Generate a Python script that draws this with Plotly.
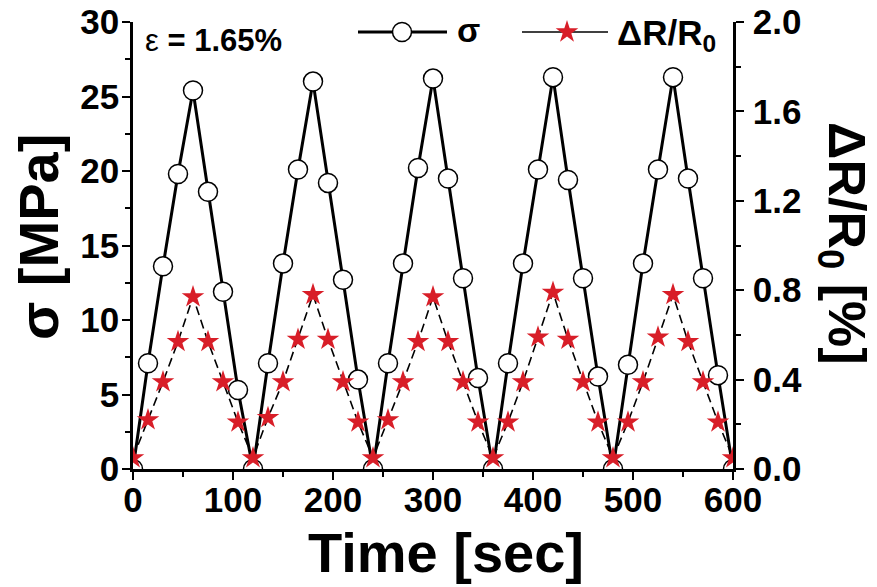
import plotly.graph_objects as go

# Time axis: one reading every 15 s over five loading cycles
time_s = list(range(0, 601, 15))

# Stress (MPa) for each reading
stress_mpa = [
    0.0, 7.1, 13.6, 19.8, 25.4, 18.6, 11.9, 5.3,
    0.0, 7.1, 13.8, 20.1, 26.0, 19.2, 12.7, 6.0,
    0.0, 7.1, 13.8, 20.2, 26.2, 19.5, 12.8, 6.1,
    0.0, 7.1, 13.8, 20.1, 26.3, 19.4, 12.8, 6.2,
    0.0, 7.0, 13.8, 20.1, 26.3, 19.5, 12.8, 6.3,
    0.0,
]

# Relative resistance change (%) for each reading
dr_pct = [
    0.05, 0.22, 0.39, 0.57, 0.77, 0.57, 0.39, 0.21,
    0.05, 0.23, 0.39, 0.58, 0.78, 0.58, 0.39, 0.21,
    0.05, 0.22, 0.39, 0.57, 0.77, 0.57, 0.39, 0.21,
    0.05, 0.21, 0.39, 0.59, 0.79, 0.58, 0.39, 0.21,
    0.05, 0.21, 0.39, 0.59, 0.78, 0.57, 0.39, 0.21,
    0.05,
]

x_ticks = [0, 100, 200, 300, 400, 500, 600]
y_ticks = [0, 5, 10, 15, 20, 25, 30]
y2_ticks = [0.0, 0.4, 0.8, 1.2, 1.6, 2.0]

FONT = "Liberation Sans, Arial, sans-serif"
RED = "#d81e28"
W, H = 877, 587
ML, MR, MT, MB = 133, 144, 22, 118
PW, PH = W - ML - MR, H - MT - MB
X_RANGE = [0, 600]
Y_RANGE = [0, 30]


def px_to_paper(px, py):
    """Page pixels -> plotly paper coordinates (relative to the plot area)."""
    return (px - ML) / PW, (H - MB - py) / PH


def px_to_data(px, py):
    """Page pixels -> primary-axis data coordinates."""
    fx, fy = px_to_paper(px, py)
    return (X_RANGE[0] + fx * (X_RANGE[1] - X_RANGE[0]),
            Y_RANGE[0] + fy * (Y_RANGE[1] - Y_RANGE[0]))


circle_marker = dict(symbol="circle", size=19, color="white",
                     line=dict(color="black", width=1.5))
star_marker = dict(symbol="star", size=17, color=RED, line=dict(width=0))

fig = go.Figure()

fig.add_trace(go.Scatter(
    x=time_s, y=stress_mpa, name="σ", mode="lines+markers",
    line=dict(color="black", width=3),
    marker=circle_marker, showlegend=False, yaxis="y",
))

fig.add_trace(go.Scatter(
    x=time_s, y=dr_pct, name="ΔR/R0", mode="lines+markers",
    line=dict(color="black", width=1.6, dash="9px,5px"),
    marker=star_marker, showlegend=False, yaxis="y2",
))

# Hand-built legend keys across the top of the plot area
key_y = 32
for (x1, xm, x2), lw, mk in [
    ((358, 402, 447), 3.0, circle_marker),
    ((522, 567, 608), 1.6, star_marker),
]:
    xs = [px_to_data(p, key_y)[0] for p in (x1, xm, x2)]
    yk = px_to_data(x1, key_y)[1]
    fig.add_trace(go.Scatter(
        x=xs, y=[yk] * 3, mode="lines", line=dict(color="black", width=lw),
        showlegend=False, hoverinfo="skip", cliponaxis=False,
    ))
    fig.add_trace(go.Scatter(
        x=[xs[1]], y=[yk], mode="markers", marker=mk,
        showlegend=False, hoverinfo="skip", cliponaxis=False,
    ))

axis_common = dict(
    showline=True, linecolor="black", linewidth=2.6,
    ticks="outside", ticklen=8, tickwidth=2.4, tickcolor="black",
    showgrid=False, zeroline=False, automargin=False,
    tickfont=dict(family=FONT, size=35, color="black", weight="bold"),
)

fig.update_layout(
    width=W, height=H, autosize=False,
    margin=dict(l=ML, r=MR, t=MT, b=MB, pad=0, autoexpand=False),
    paper_bgcolor="white", plot_bgcolor="white",
    xaxis=dict(
        range=X_RANGE, tickvals=x_ticks, ticktext=[str(v) for v in x_ticks],
        ticklabelstandoff=-10,
        minor=dict(dtick=50, ticks="outside", ticklen=5, tickwidth=2.2,
                   tickcolor="black"),
        **axis_common,
    ),
    yaxis=dict(
        range=Y_RANGE, tickvals=y_ticks, ticktext=[str(v) for v in y_ticks],
        ticklabelstandoff=-4,
        minor=dict(dtick=2.5, ticks="outside", ticklen=5, tickwidth=2.2,
                   tickcolor="black"),
        **axis_common,
    ),
    yaxis2=dict(
        range=[0, 2.0], overlaying="y", side="right",
        tickvals=y2_ticks, ticktext=[f"{v:.1f}" for v in y2_ticks],
        ticklabelstandoff=2,
        minor=dict(dtick=0.2, ticks="outside", ticklen=5, tickwidth=2.2,
                   tickcolor="black"),
        **axis_common,
    ),
)

annots = [
    dict(text="ε <b>= 1.65%</b>", pos=(143, 40), xanchor="left",
         size=31, angle=0),
    dict(text="<b>σ</b>", pos=(455, 30), xanchor="left", size=34, angle=0),
    dict(text="<b>ΔR/R<sub>0</sub></b>", pos=(615, 35), xanchor="left",
         size=35, angle=0),
    dict(text="<b>Time [sec]</b>", pos=(446, 552), xanchor="center",
         size=56, angle=0),
    dict(text="<b>σ [MPa]</b>", pos=(38, 237), xanchor="center",
         size=56, angle=-90),
    dict(text="<b>ΔR/R<sub>0</sub> [%]</b>", pos=(843, 243),
         xanchor="center", size=52, angle=90),
]
for a in annots:
    fx, fy = px_to_paper(*a["pos"])
    fig.add_annotation(
        text=a["text"], x=fx, y=fy, xref="paper", yref="paper",
        xanchor=a["xanchor"], yanchor="middle", textangle=a["angle"],
        showarrow=False,
        font=dict(family=FONT, size=a["size"], color="black"),
    )

fig.write_html("out.html")
